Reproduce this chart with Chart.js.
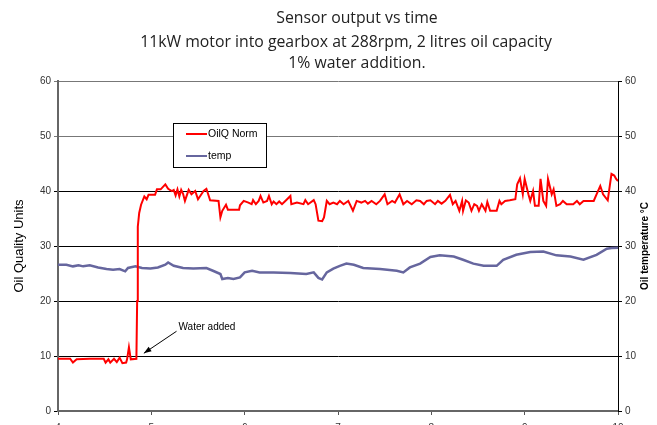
<!DOCTYPE html>
<html>
<head>
<meta charset="utf-8">
<script src="https://cdn.jsdelivr.net/npm/chart.js@4.4.1/dist/chart.umd.min.js"></script>
<style>
  html, body { margin: 0; padding: 0; background: #fff; overflow: hidden; }
  #wrap { position: relative; width: 657px; height: 425px; }
</style>
</head>
<body>
<div id="wrap"><canvas id="main_plot" width="657" height="425"></canvas></div>
<script>
// title lines
const titleLines = ['Sensor output vs time', '11kW motor into gearbox at 288rpm, 2 litres oil capacity', '1% water addition.'];

// OilQ Norm (red)
const oilqX = [4.00, 4.13, 4.16, 4.20, 4.34, 4.49, 4.51, 4.54, 4.56, 4.60, 4.63, 4.66, 4.69, 4.73, 4.74, 4.76, 4.78, 4.84,
  4.848, 4.855, 4.87, 4.89, 4.925, 4.95, 4.97, 5.04, 5.06, 5.10, 5.15, 5.18, 5.22, 5.24, 5.26, 5.28, 5.30, 5.32, 5.34,
  5.36, 5.40, 5.43, 5.47, 5.50, 5.54, 5.56, 5.59, 5.63, 5.72, 5.74, 5.76, 5.80, 5.82, 5.94, 5.95, 5.99,
  6.04, 6.075, 6.09, 6.12, 6.15, 6.17, 6.20, 6.24, 6.26, 6.29, 6.31, 6.34, 6.37, 6.40, 6.43, 6.49, 6.50, 6.56,
  6.63, 6.65, 6.68, 6.74, 6.76, 6.79, 6.83, 6.85, 6.88,
  6.91, 6.95, 6.99, 7.02, 7.06, 7.11, 7.16, 7.20, 7.25, 7.29, 7.32, 7.36, 7.41, 7.45, 7.50, 7.53, 7.58, 7.61,
  7.66, 7.70, 7.74, 7.79, 7.84, 7.88, 7.92, 7.95, 7.99, 8.04, 8.07, 8.11, 8.15, 8.20, 8.23, 8.26, 8.30, 8.33,
  8.34, 8.37, 8.40, 8.43, 8.46, 8.49, 8.51, 8.54, 8.58, 8.60, 8.63, 8.70, 8.73, 8.75, 8.79, 8.84, 8.90, 8.92,
  8.95, 8.98, 9.00, 9.04, 9.06, 9.09, 9.11, 9.15, 9.17, 9.20, 9.23, 9.25, 9.29, 9.31, 9.34, 9.38, 9.41, 9.45,
  9.52, 9.56, 9.59, 9.63, 9.68, 9.74, 9.77, 9.81, 9.84, 9.89, 9.93, 9.96, 9.98, 10.0];
const oilqY = [9.5, 9.5, 8.8, 9.4, 9.5, 9.5, 8.8, 9.4, 8.8, 9.5, 8.9, 9.7, 8.7, 8.8, 9.4, 11.6, 9.4, 9.5,
  20.0, 33.5, 36.0, 37.5, 39.0, 38.5, 39.3, 39.3, 40.3, 40.3, 41.2, 40.4, 40.0, 40.2, 39.2, 40.3, 39.0, 40.2, 39.5,
  38.2, 40.2, 39.4, 40.0, 38.5, 39.5, 40.0, 40.4, 38.3, 38.2, 35.2, 36.4, 37.5, 36.6, 36.6, 37.4, 38.2,
  37.9, 37.6, 38.35, 37.6, 38.2, 39.1, 37.9, 38.2, 39.1, 37.6, 38.1, 37.6, 38.1, 37.6, 38.1, 39.1, 37.6, 37.9,
  37.6, 38.35, 37.6, 38.35, 37.6, 34.6, 34.5, 35.2, 38.2,
  37.6, 37.9, 37.6, 38.2, 37.6, 38.2, 36.4, 38.2, 37.9, 38.2, 37.7, 38.2, 37.6, 38.2, 39.4, 37.6, 38.2, 37.9,
  39.4, 37.6, 38.2, 37.6, 38.3, 38.2, 37.6, 38.2, 38.3, 37.6, 38.2, 37.7, 38.2, 39.3, 37.6, 38.2, 36.4, 38.2,
  36.4, 38.3, 37.9, 36.4, 37.6, 37.3, 36.4, 37.6, 36.4, 38.0, 36.4, 36.4, 38.2, 37.6, 38.2, 38.3, 38.5, 41.2,
  42.3, 39.4, 42.2, 39.4, 38.2, 40.0, 37.3, 37.3, 42.2, 38.2, 37.3, 42.2, 39.4, 40.3, 37.3, 37.6, 38.2, 37.6,
  37.6, 38.2, 37.6, 38.2, 38.2, 38.2, 39.4, 40.9, 39.4, 38.3, 43.1, 42.8, 42.2, 41.8];

// temp (blue)
const tempX = [4.00, 4.09, 4.16, 4.22, 4.27, 4.34, 4.43, 4.52, 4.59, 4.66, 4.72, 4.75, 4.83, 4.90, 4.99, 5.07, 5.15,
  5.18, 5.24, 5.34, 5.45, 5.59, 5.66, 5.74, 5.76, 5.82, 5.88, 5.95, 6.00, 6.08, 6.16, 6.31, 6.49, 6.66, 6.74,
  6.79, 6.83, 6.88, 6.95, 7.02, 7.09, 7.17, 7.27, 7.45, 7.63, 7.70, 7.77, 7.88, 7.99, 8.09, 8.24, 8.34, 8.45,
  8.56, 8.70, 8.77, 8.91, 9.06, 9.20, 9.34, 9.49, 9.63, 9.77, 9.88, 9.93, 10.0];
const tempY = [26.6, 26.6, 26.3, 26.5, 26.3, 26.5, 26.1, 25.8, 25.7, 25.8, 25.4, 26.0, 26.3, 26.0, 25.9, 26.1, 26.6,
  27.0, 26.4, 26.0, 25.9, 26.0, 25.5, 24.9, 24.0, 24.2, 24.0, 24.3, 25.2, 25.5, 25.2, 25.2, 25.1, 24.9, 25.2,
  24.2, 23.9, 25.2, 25.9, 26.4, 26.8, 26.6, 26.0, 25.8, 25.5, 25.2, 26.1, 26.8, 28.0, 28.3, 28.1, 27.5, 26.8,
  26.4, 26.4, 27.5, 28.4, 28.9, 29.0, 28.3, 28.1, 27.5, 28.4, 29.5, 29.65, 29.7];

// annotation anchors (data units)
const noteText = 'Water added';
const noteTip = [4.92, 10.5];
const noteTail = [5.27, 14.5];

const FONT = 'Liberation Sans, Arial, sans-serif';

// titles, legend box, right axis title and arrow
const extras = {
    id: 'extras',
    afterDraw(chart) {
        const c = chart.ctx;
        const area = chart.chartArea;
        const xs = chart.scales.x, ys = chart.scales.y;
        c.save();

        // titles
        c.fillStyle = '#222';
        c.font = '15.8px "Open Sans", sans-serif';
        c.textAlign = 'center';
        c.textBaseline = 'middle';
        const cx = [357, 346, 357];
        const cy = [18, 42, 63];
        titleLines.forEach((t, i) => c.fillText(t, cx[i], cy[i]));

        // right axis title (reads bottom to top)
        c.save();
        c.translate(645, (area.top + area.bottom) / 2);
        c.rotate(-Math.PI / 2);
        c.font = 'bold 10px ' + FONT;
        c.fillStyle = '#000';
        c.fillText('Oil temperature \u00B0C', 0, 0);
        c.restore();

        // legend box
        const lx = area.left + 115, ly = area.top + 42, lw = 93, lh = 44;
        c.fillStyle = '#fff';
        c.fillRect(lx, ly, lw, lh);
        c.strokeStyle = '#000';
        c.lineWidth = 1;
        c.strokeRect(lx + 0.5, ly + 0.5, lw, lh);
        chart.data.datasets.forEach((ds, i) => {
            const yy = ly + 11 + i * 22;
            c.strokeStyle = ds.borderColor;
            c.lineWidth = 2;
            c.beginPath();
            c.moveTo(lx + 13, yy);
            c.lineTo(lx + 34, yy);
            c.stroke();
            c.fillStyle = '#000';
            c.font = '10.5px ' + FONT;
            c.textAlign = 'left';
            c.fillText(ds.label, lx + 35, yy);
        });

        // water added arrow
        const tx = xs.getPixelForValue(noteTip[0]), ty = ys.getPixelForValue(noteTip[1]);
        const sx = xs.getPixelForValue(noteTail[0]), sy = ys.getPixelForValue(noteTail[1]);
        c.strokeStyle = '#000';
        c.fillStyle = '#000';
        c.lineWidth = 1;
        c.beginPath();
        c.moveTo(sx, sy);
        c.lineTo(tx, ty);
        c.stroke();
        const ang = Math.atan2(ty - sy, tx - sx);
        c.beginPath();
        c.moveTo(tx, ty);
        c.lineTo(tx - 8 * Math.cos(ang - 0.35), ty - 8 * Math.sin(ang - 0.35));
        c.lineTo(tx - 8 * Math.cos(ang + 0.35), ty - 8 * Math.sin(ang + 0.35));
        c.closePath();
        c.fill();
        c.font = '10px ' + FONT;
        c.textAlign = 'left';
        c.fillText(noteText, sx + 2, sy - 4);

        c.restore();
    }
};

const gridColor = ctx => (ctx.tick && ctx.tick.value >= 50) ? '#777' : '#000';

new Chart(document.getElementById('main_plot').getContext('2d'), {
    type: 'line',
    data: {
        datasets: [{
            label: 'OilQ Norm',
            data: oilqX.map((x, i) => ({ x, y: oilqY[i] })),
            borderColor: '#ff0000',
            borderWidth: 2,
            pointRadius: 0,
            tension: 0,
            fill: false,
            yAxisID: 'y'
        }, {
            label: 'temp',
            data: tempX.map((x, i) => ({ x, y: tempY[i] })),
            borderColor: '#66669e',
            borderWidth: 2.5,
            pointRadius: 0,
            tension: 0,
            fill: false,
            yAxisID: 'y'
        }]
    },
    options: {
        responsive: false,
        animation: false,
        layout: { padding: { top: 81, left: 0, right: 0, bottom: 0 } },
        plugins: {
            legend: { display: false },
            tooltip: { enabled: false },
            title: { display: false }
        },
        scales: {
            x: {
                type: 'linear',
                min: 4,
                max: 10,
                ticks: { stepSize: 1, color: '#333', font: { family: FONT, size: 10 }, padding: 7, maxRotation: 0 },
                grid: { display: true, drawOnChartArea: false, drawTicks: true, tickLength: 4, color: '#555' },
                border: { color: '#666', width: 2 },
                afterFit: s => { s.height = 14; }
            },
            y: {
                position: 'left',
                min: 0,
                max: 60,
                ticks: { stepSize: 10, color: '#333', font: { family: FONT, size: 10 }, padding: 3 },
                grid: { color: gridColor, lineWidth: 1, tickLength: 4 },
                border: { color: '#666', width: 2 },
                title: { display: true, text: 'Oil Quality Units', color: '#000', font: { family: FONT, size: 13 }, padding: { top: 12, bottom: 0 } },
                afterFit: s => { s.width = 58; }
            },
            y2: {
                position: 'right',
                min: 0,
                max: 60,
                ticks: { stepSize: 10, color: '#333', font: { family: FONT, size: 10 }, padding: 3 },
                grid: { drawOnChartArea: false, tickLength: 4, color: '#000' },
                border: { color: '#000', width: 1 },
                afterFit: s => { s.width = 39; }
            }
        }
    },
    plugins: [extras]
});
</script>
</body>
</html>
